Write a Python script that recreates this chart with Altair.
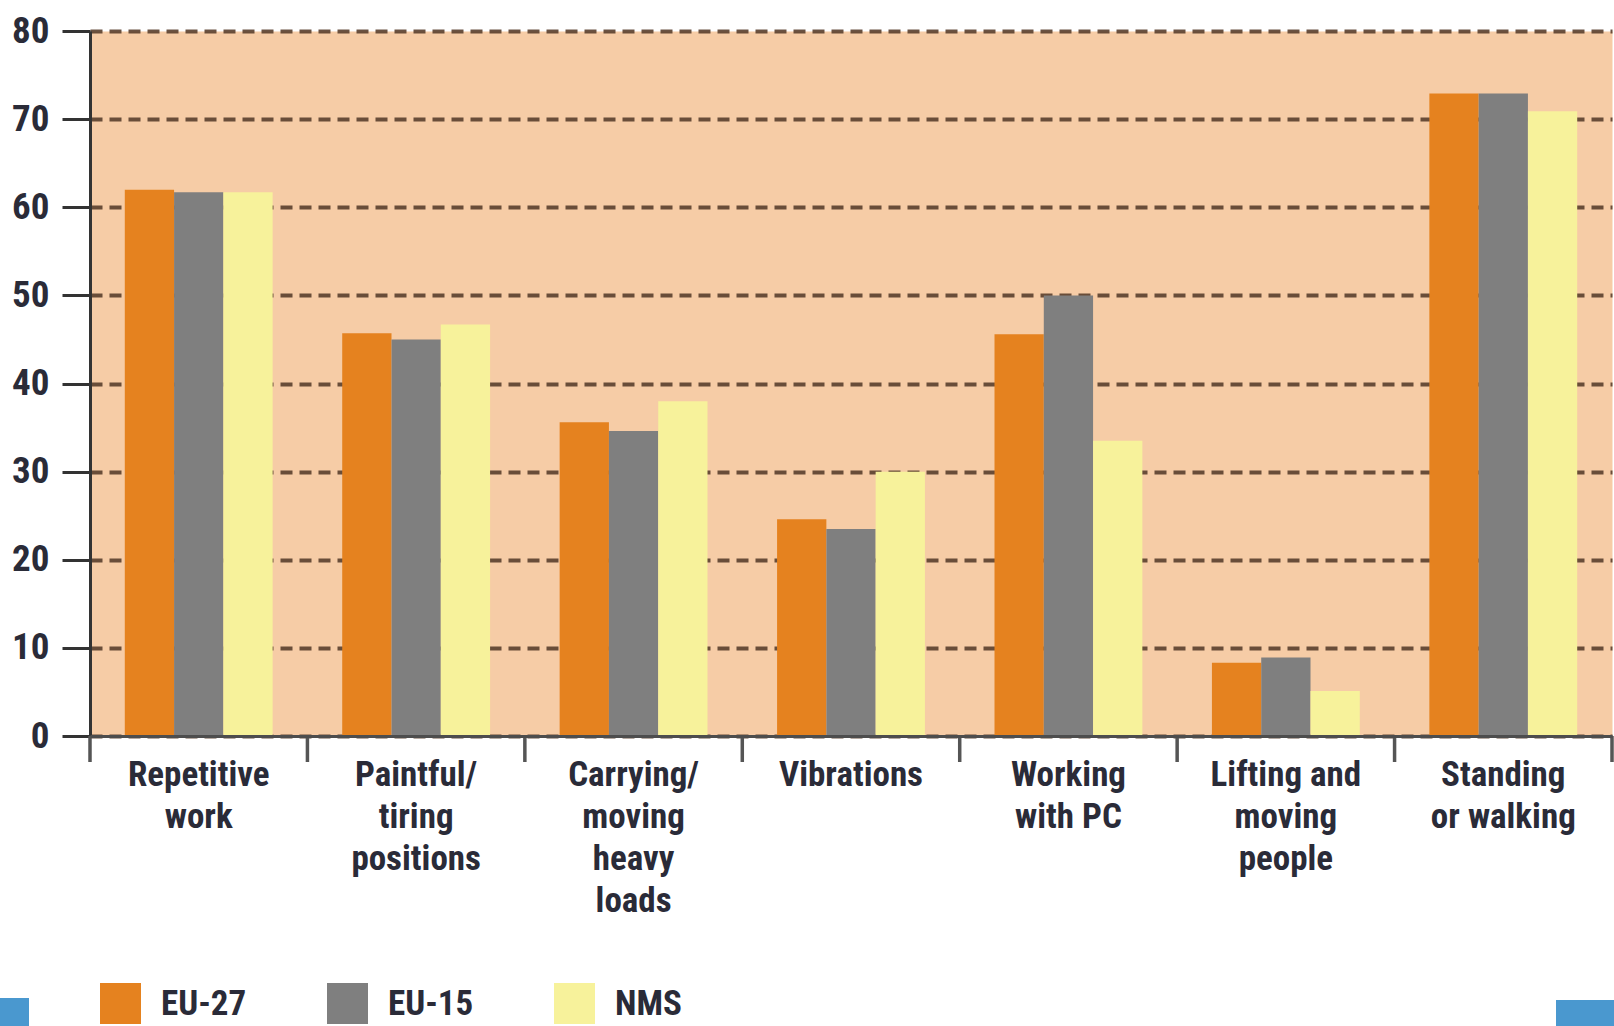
import json

import altair as alt
import pandas as pd

# Survey categories (x axis) and how each label breaks across lines
categories = [
    "Repetitive work",
    "Paintful/ tiring positions",
    "Carrying/ moving heavy loads",
    "Vibrations",
    "Working with PC",
    "Lifting and moving people",
    "Standing or walking",
]
label_lines = [
    ["Repetitive", "work"],
    ["Paintful/", "tiring", "positions"],
    ["Carrying/", "moving", "heavy", "loads"],
    ["Vibrations"],
    ["Working", "with PC"],
    ["Lifting and", "moving", "people"],
    ["Standing", "or walking"],
]

# Series and their values (%)
series = ["EU-27", "EU-15", "NMS"]
eu27 = [62.0, 45.7, 35.6, 24.6, 45.6, 8.3, 72.9]
eu15 = [61.7, 45.0, 34.6, 23.5, 50.0, 8.9, 72.9]
nms = [61.7, 46.7, 38.0, 30.0, 33.5, 5.1, 70.9]
colors = ["#E5821F", "#7F7F7F", "#F7F29B"]

y_ticks = [0, 10, 20, 30, 40, 50, 60, 70, 80]

rows = []
for name, vals in zip(series, [eu27, eu15, nms]):
    for cat, v in zip(categories, vals):
        rows.append({"category": cat, "series": name, "value": v})
df = pd.DataFrame(rows)

FONT = "Roboto Condensed, Roboto, sans-serif"
TEXT = "#2A2B38"
W, H = 1522, 705

label_map = json.dumps(dict(zip(categories, label_lines)))

bars = alt.Chart(df).mark_bar(strokeWidth=0).encode(
    x=alt.X(
        "category:N",
        sort=categories,
        title=None,
        scale=alt.Scale(paddingInner=0.32, paddingOuter=0.16),
        axis=alt.Axis(
            labelExpr=f"{label_map}[datum.value]",
            labelAngle=0,
            ticks=False,
            grid=False,
            domainColor="#4D4D4D",
            domainWidth=3,
            labelPadding=21,
            labelLineHeight=42,
            labelFontSize=35,
            labelLimit=400,
            labelBaseline="top",
            zindex=1,
        ),
    ),
    xOffset=alt.XOffset("series:N", sort=series,
                        scale=alt.Scale(paddingInner=0, paddingOuter=0)),
    y=alt.Y(
        "value:Q",
        title=None,
        scale=alt.Scale(domain=[0, 80], nice=False, zero=True),
        axis=alt.Axis(
            values=y_ticks,
            tickSize=28,
            tickWidth=3,
            tickColor="#333333",
            domainColor="#333333",
            domainWidth=3,
            gridDash=[12, 7],
            gridColor="#5A3F2E",
            gridWidth=4,
            gridOpacity=0.9,
            labelPadding=13,
            labelFontSize=37,
        ),
    ),
    color=alt.Color(
        "series:N",
        sort=series,
        scale=alt.Scale(domain=series, range=colors),
        legend=alt.Legend(
            title=None,
            orient="none",
            legendX=10,
            legendY=952,
            direction="horizontal",
            columns=3,
            gridAlign="all",
            symbolType="square",
            symbolSize=1681,
            symbolStrokeWidth=0,
            symbolOpacity=1,
            labelFontSize=35,
            labelFont=FONT,
            labelFontWeight="bold",
            labelColor=TEXT,
            labelOffset=20,
            labelLimit=300,
            columnPadding=80,
            padding=0,
        ),
    ),
)

# Tick marks at the boundaries between category groups
bounds = pd.DataFrame({"b": list(range(len(categories) + 1))})
group_ticks = alt.Chart(bounds).mark_rule(color="#555555", strokeWidth=3.5).encode(
    x=alt.X("b:Q", scale=alt.Scale(domain=[0, len(categories)]), axis=None),
    y=alt.value(H),
    y2=alt.value(H + 26),
)

# Blue page tabs in the bottom corners
one = pd.DataFrame({"k": [0]})
tab_left = alt.Chart(one).mark_rect(color="#4A98CF").encode(
    x=alt.value(-90), x2=alt.value(-61), y=alt.value(967), y2=alt.value(995)
)
tab_right = alt.Chart(one).mark_rect(color="#4A98CF").encode(
    x=alt.value(1466), x2=alt.value(1524), y=alt.value(969), y2=alt.value(995)
)

chart = (
    alt.layer(bars, group_ticks, tab_left, tab_right)
    .resolve_scale(x="independent")
    .properties(
        width=W,
        height=H,
        autosize=alt.AutoSizeParams(type="none"),
        padding={"left": 90, "top": 31, "right": 2, "bottom": 290},
    )
    .configure(background="white")
    .configure_view(fill="#F6CCA6", strokeOpacity=0)
    .configure_axis(labelFont=FONT, labelFontWeight="bold", labelColor=TEXT)
)

chart.save("out.html", embed_options={"renderer": "svg", "actions": False})
